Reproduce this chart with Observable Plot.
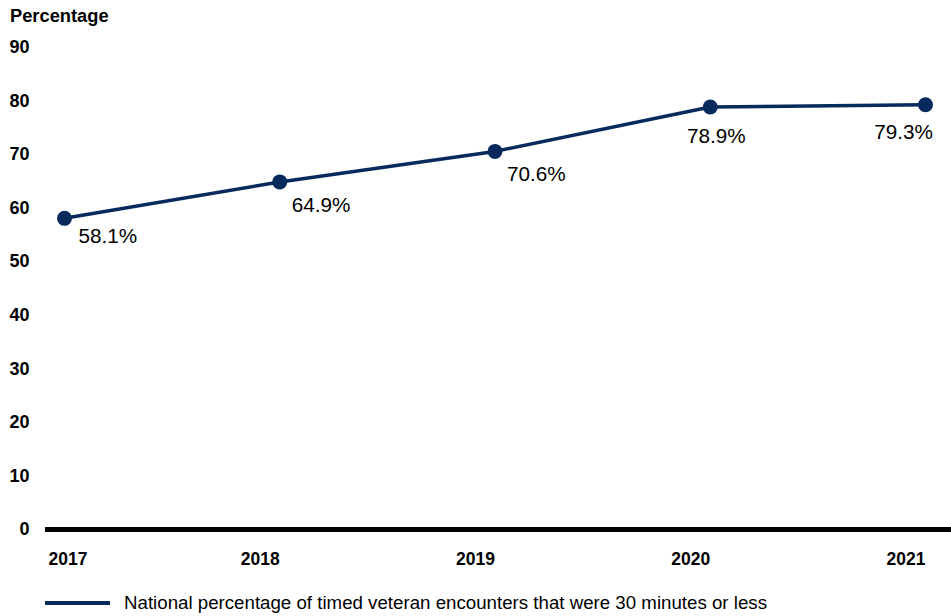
<!DOCTYPE html>
<html>
<head>
<meta charset="utf-8">
<script src="https://cdn.jsdelivr.net/npm/d3@7"></script>
<script src="https://cdn.jsdelivr.net/npm/@observablehq/plot@0.6"></script>
<style>
  html, body { margin: 0; padding: 0; background: #fff; }
  body { position: relative; width: 951px; height: 616px; overflow: hidden; font-family: "Liberation Sans", Arial, sans-serif; }
  #title { position: absolute; left: 10px; top: 5px; font-size: 18.3px; font-weight: bold; line-height: 22px; color: #000; }
  #chart svg { display: block; }
  #legend { position: relative; height: 36px; }
  #legend .swatch { position: absolute; left: 45px; top: 21px; width: 65px; height: 4px; background: #062a5b; }
  #legend .label { position: absolute; left: 124px; top: 12px; font-size: 18.7px; line-height: 22px; color: #000; white-space: nowrap; }
</style>
</head>
<body>
<div id="title">Percentage</div>
<div id="chart"></div>
<div id="legend"><div class="swatch"></div><div class="label">National percentage of timed veteran encounters that were 30 minutes or less</div></div>
<script>
const years = [2017, 2018, 2019, 2020, 2021];
const values = [58.1, 64.9, 70.6, 78.9, 79.3];
const yTicks = [0, 10, 20, 30, 40, 50, 60, 70, 80, 90];

const data = years.map((year, i) => ({year, value: values[i], label: values[i].toFixed(1) + "%", i}));
const color = "#062a5b";
const font = "Liberation Sans, Arial, sans-serif";

const chart = Plot.plot({
  width: 951,
  height: 580,
  marginTop: 47,
  marginBottom: 51,
  marginLeft: 64,
  marginRight: 26,
  style: {fontFamily: font, background: "#fff"},
  x: {domain: [2017, 2021]},
  y: {domain: [0, 90]},
  marks: [
    Plot.axisY({ticks: yTicks, tickSize: 0, tickPadding: 35, label: null, fontSize: 18, fontWeight: "bold", fill: "#000"}),
    Plot.axisX({ticks: years.slice(1), tickFormat: "d", tickSize: 0, tickPadding: 23, label: null, textAnchor: "end", dx: 0, fontSize: 17.5, fontWeight: "bold", fill: "#000"}),
    Plot.axisX({ticks: years.slice(0, 1), tickFormat: "d", tickSize: 0, tickPadding: 23, label: null, textAnchor: "start", dx: -16, fontSize: 17.5, fontWeight: "bold", fill: "#000"}),
    Plot.ruleY([0], {stroke: "#000", strokeWidth: 5, insetLeft: -19, insetRight: -26}),
    Plot.line(data, {x: "year", y: "value", stroke: color, strokeWidth: 3.5}),
    Plot.dot(data, {x: "year", y: "value", r: 7.5, fill: color, stroke: "none"}),
    Plot.text(data.filter(d => d.i === 0), {x: "year", y: "value", text: "label", textAnchor: "start", dx: 14, dy: 18, fontSize: 20.7, fill: "#000"}),
    Plot.text(data.filter(d => d.i === 1 || d.i === 2), {x: "year", y: "value", text: "label", textAnchor: "start", dx: 12, dy: 23, fontSize: 20.7, fill: "#000"}),
    Plot.text(data.filter(d => d.i === 3), {x: "year", y: "value", text: "label", textAnchor: "middle", dx: 6, dy: 29, fontSize: 20.7, fill: "#000"}),
    Plot.text(data.filter(d => d.i === 4), {x: "year", y: "value", text: "label", textAnchor: "middle", dx: -22, dy: 28, fontSize: 20.7, fill: "#000"})
  ]
});
document.getElementById("chart").appendChild(chart);
</script>
</body>
</html>
